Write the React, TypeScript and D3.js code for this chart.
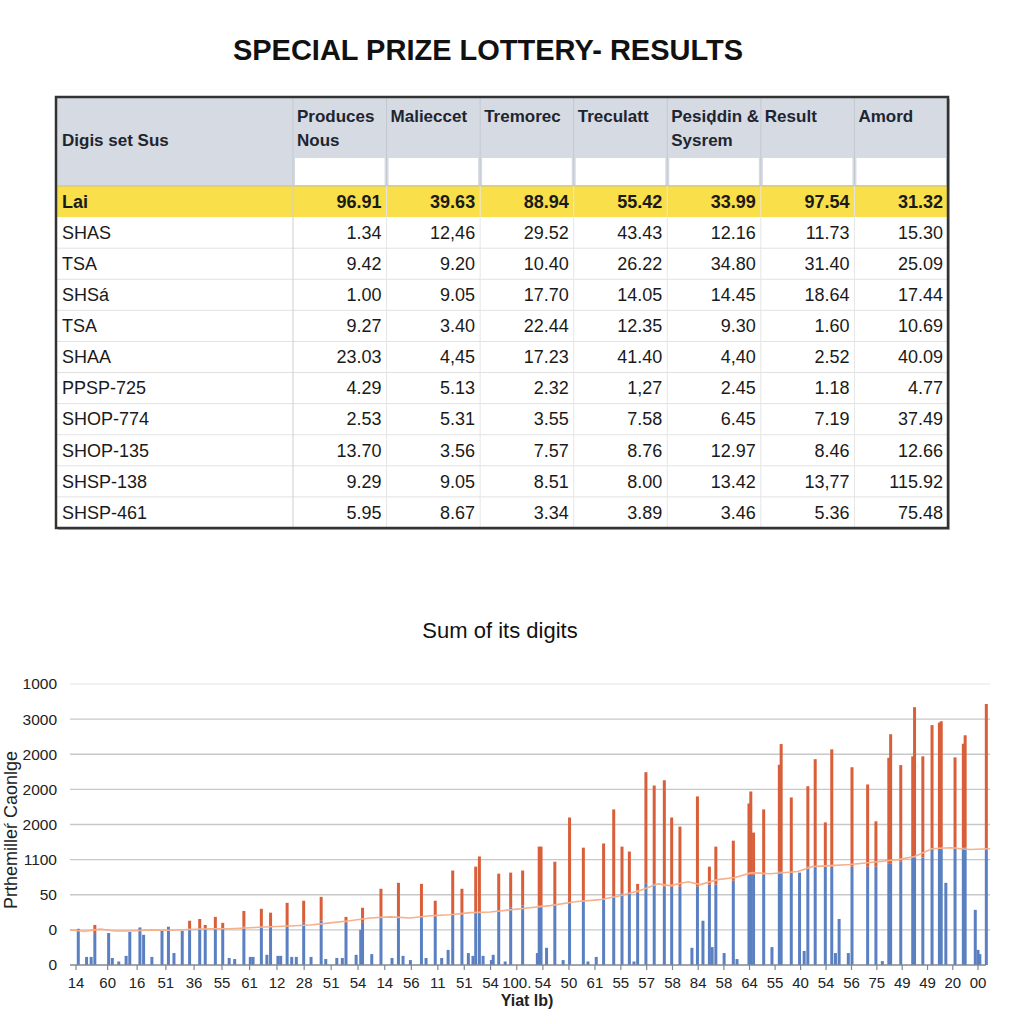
import React from "react";
import * as d3 from "d3";

// ---------- Table data ----------
const pageTitle = "SPECIAL PRIZE LOTTERY- RESULTS";
const firstHeader = "Digis set Sus";
const columnHeaders = [["Produces", "Nous"], ["Malieccet"], ["Tremorec"], ["Treculatt"], ["Pesiḑdin &", "Sysrem"], ["Result"], ["Amord"]];
const rowLabels = ["Lai", "SHAS", "TSA", "SHSá", "TSA", "SHAA", "PPSP-725", "SHOP-774", "SHOP-135", "SHSP-138", "SHSP-461"];
const rowValues = [
  ["96.91", "39.63", "88.94", "55.42", "33.99", "97.54", "31.32"],
  ["1.34", "12,46", "29.52", "43.43", "12.16", "11.73", "15.30"],
  ["9.42", "9.20", "10.40", "26.22", "34.80", "31.40", "25.09"],
  ["1.00", "9.05", "17.70", "14.05", "14.45", "18.64", "17.44"],
  ["9.27", "3.40", "22.44", "12.35", "9.30", "1.60", "10.69"],
  ["23.03", "4,45", "17.23", "41.40", "4,40", "2.52", "40.09"],
  ["4.29", "5.13", "2.32", "1,27", "2.45", "1.18", "4.77"],
  ["2.53", "5.31", "3.55", "7.58", "6.45", "7.19", "37.49"],
  ["13.70", "3.56", "7.57", "8.76", "12.97", "8.46", "12.66"],
  ["9.29", "9.05", "8.51", "8.00", "13.42", "13,77", "115.92"],
  ["5.95", "8.67", "3.34", "3.89", "3.46", "5.36", "75.48"],
];

// ---------- Chart data ----------
const chartTitle = "Sum of its digits";
const yTickLabels = ["0", "0", "50", "1100", "2000", "2000", "2000", "3000", "1000"];
const xTickLabels = ["14", "60", "16", "51", "36", "55", "61", "12", "28", "51", "54", "14", "56", "11", "51", "54", "100.", "54", "50", "61", "55", "57", "58", "84", "58", "64", "55", "40", "54", "56", "75", "49", "49", "20", "00"];
const yAxisTitle = "Prthemilleŕ Caonlge";
const xAxisTitle = "Yiat lb)";

const barPos = [0.9, 1.8, 2.3, 2.7, 4.2, 4.6, 5.3, 6.1, 6.5, 7.6, 8.0, 8.9, 10.0, 10.7, 11.3, 12.2, 13.0, 14.1, 14.7, 15.8, 16.6, 17.3, 17.9, 18.9, 19.6, 19.9, 20.8, 21.4, 21.8, 22.6, 22.9, 23.6, 24.1, 24.6, 25.4, 26.2, 27.3, 27.8, 29.0, 29.6, 30.0, 31.1, 31.6, 31.8, 32.8, 33.8, 35.0, 35.7, 36.2, 37.0, 38.2, 38.7, 39.7, 40.4, 41.1, 41.6, 42.6, 43.3, 43.8, 44.1, 44.5, 44.9, 45.8, 46.0, 46.6, 47.3, 47.9, 49.2, 50.8, 51.0, 51.2, 51.8, 52.7, 53.6, 54.3, 55.8, 56.3, 57.2, 58.0, 59.1, 60.0, 60.8, 61.3, 61.7, 62.6, 63.5, 64.6, 65.4, 66.3, 67.6, 68.2, 68.8, 69.5, 69.8, 70.2, 71.1, 72.1, 72.5, 73.8, 74.0, 74.3, 75.4, 76.3, 77.1, 77.3, 78.4, 79.3, 79.8, 80.2, 81.0, 82.1, 82.8, 83.2, 83.6, 84.6, 85.0, 86.7, 87.6, 88.3, 89.0, 89.2, 90.3, 91.6, 91.8, 92.7, 93.7, 94.5, 94.7, 95.2, 96.2, 97.1, 97.3, 98.4, 98.7, 98.9, 99.6];
const barBlue = [1.03, 0.23, 0.23, 0.91, 0.91, 0.2, 0.1, 0.26, 0.94, 1.07, 0.86, 0.23, 0.97, 1.09, 0.34, 0.97, 1.03, 1.03, 1.03, 1.03, 1.03, 0.2, 0.17, 1.09, 0.23, 0.23, 1.09, 0.29, 1.09, 0.26, 0.26, 1.14, 0.23, 0.23, 1.2, 0.23, 1.26, 0.17, 0.2, 0.2, 1.2, 0.29, 1.0, 1.2, 0.31, 1.37, 0.2, 1.37, 0.26, 0.14, 1.37, 0.2, 1.37, 0.2, 0.43, 1.43, 1.43, 0.34, 0.26, 1.51, 1.51, 0.26, 0.14, 0.29, 1.51, 0.1, 1.63, 1.69, 0.34, 1.69, 1.69, 0.49, 1.71, 0.14, 1.77, 1.8, 0.1, 0.23, 1.86, 1.94, 2.03, 2.03, 0.1, 2.06, 2.31, 2.31, 2.23, 2.23, 2.23, 0.49, 2.23, 1.26, 2.29, 0.51, 2.29, 0.34, 2.4, 0.17, 2.57, 2.57, 2.57, 2.57, 0.51, 2.66, 2.66, 2.63, 2.63, 0.4, 2.8, 2.8, 2.8, 2.8, 0.34, 1.31, 0.34, 2.8, 2.8, 2.8, 0.11, 2.89, 2.89, 2.94, 3.06, 3.06, 3.06, 3.31, 3.34, 3.34, 2.34, 3.34, 3.34, 3.34, 1.57, 0.43, 0.31, 3.31];
const barRed = [0, 0, 0, 0.23, 0, 0, 0, 0, 0, 0, 0, 0, 0, 0, 0, 0, 0.23, 0.28, 0.11, 0.34, 0.17, 0, 0, 0.45, 0, 0, 0.51, 0, 0.4, 0, 0, 0.63, 0, 0, 0.63, 0, 0.68, 0, 0, 0, 0.17, 0, 0, 0.43, 0, 0.8, 0, 0.97, 0, 0, 0.94, 0, 0.46, 0, 0, 1.26, 0.74, 0, 0, 1.29, 1.58, 0, 0, 0, 1.09, 0, 1.0, 1.0, 0, 1.68, 1.68, 0, 1.23, 0, 2.43, 1.54, 0, 0, 1.6, 2.49, 1.34, 1.2, 0, 0.25, 3.18, 2.8, 3.03, 1.97, 1.71, 0, 2.57, 0, 0.51, 0, 1.08, 0, 1.14, 0, 2.03, 2.37, 1.2, 1.86, 0, 3.04, 3.63, 2.14, 0, 0, 2.29, 3.06, 1.26, 3.34, 0, 0, 0, 2.83, 2.34, 1.29, 0, 3.01, 3.68, 2.75, 2.88, 4.28, 2.88, 3.52, 3.56, 3.6, 0, 2.57, 2.96, 3.2, 0, 0, 0, 4.12];

const trendPos = [0, 1.6, 3.3, 4.9, 6.5, 8.7, 10.9, 13.0, 15.2, 17.4, 19.6, 21.7, 23.9, 26.1, 28.3, 30.4, 32.6, 34.8, 37.0, 39.1, 41.3, 43.5, 45.7, 47.8, 50.0, 52.2, 54.9, 57.6, 59.8, 62.2, 63.9, 65.2, 67.2, 68.5, 70.4, 72.3, 74.1, 76.1, 79.1, 80.7, 82.6, 84.8, 86.7, 90.0, 91.8, 93.7, 95.7, 97.8, 100];
const trendVals = [1.0, 0.96, 1.02, 0.97, 0.97, 1.0, 0.99, 1.01, 1.03, 1.03, 1.06, 1.09, 1.11, 1.14, 1.2, 1.26, 1.34, 1.37, 1.34, 1.4, 1.43, 1.49, 1.51, 1.57, 1.63, 1.69, 1.8, 1.86, 1.97, 2.14, 2.31, 2.26, 2.37, 2.29, 2.43, 2.49, 2.63, 2.6, 2.66, 2.8, 2.83, 2.86, 2.91, 3.0, 3.09, 3.31, 3.34, 3.29, 3.31];

const FONT = "'Liberation Sans', Arial, sans-serif";
const BLUE = "#5b80c2";
const RED = "#d95f3b";

export default function App() {
  // table geometry via scales
  const tableLeft = 56, tableRight = 948, tableTop = 97, headerBottom = 186, tableBottom = 528;
  const firstColRight = 293;
  const colScale = d3.scaleBand<number>().domain(d3.range(columnHeaders.length)).range([firstColRight, tableRight]);
  const rowScale = d3.scaleBand<number>().domain(d3.range(rowLabels.length)).range([headerBottom, tableBottom]);
  const cw = colScale.bandwidth();
  const rh = rowScale.bandwidth();

  // chart scales
  const plotLeft = 70, plotRight = 990, plotBottom = 965, plotTop = 684;
  const x = d3.scaleLinear().domain([0, 100]).range([plotLeft, plotRight]);
  const y = d3.scaleLinear().domain([0, yTickLabels.length - 1]).range([plotBottom, plotTop]);
  const xl = d3.scalePow().exponent(0.95).domain([0, xTickLabels.length - 1]).range([76, 978]);
  const bw = 3;
  const trendLine = d3.line<number>().x((_, i) => x(trendPos[i])).y((d) => y(d)).curve(d3.curveLinear)(trendVals) || "";

  return (
    <svg width={1024} height={1024} style={{ position: "absolute", left: 0, top: 0, background: "#fff" }} fontFamily={FONT}>
      <rect width={1024} height={1024} fill="#fff" />
      <text x={488} y={50} textAnchor="middle" dy="0.35em" fontSize={29} fontWeight={700} fill="#111">{pageTitle}</text>

      {/* Table */}
      <rect x={tableLeft + 2} y={tableTop + 2} width={tableRight - tableLeft} height={tableBottom - tableTop} fill="#bbb" />
      <rect x={tableLeft} y={tableTop} width={tableRight - tableLeft} height={tableBottom - tableTop} fill="#fff" />
      <rect x={tableLeft} y={tableTop} width={tableRight - tableLeft} height={headerBottom - tableTop} fill="#d5dae3" />
      {columnHeaders.map((_, c) => (
        <rect key={"wb" + c} x={(colScale(c) as number) + 2} y={158} width={cw - 4} height={27} fill="#fff" />
      ))}
      {columnHeaders.map((_, c) => (
        <line key={"hv" + c} x1={colScale(c) as number} x2={colScale(c) as number} y1={tableTop} y2={headerBottom} stroke="#c3c8d1" strokeWidth={1} />
      ))}
      <rect x={tableLeft} y={rowScale(0) as number} width={tableRight - tableLeft} height={rh} fill="#f9df4a" />
      <line x1={tableLeft} x2={tableRight} y1={headerBottom} y2={headerBottom} stroke="#c9c18a" strokeWidth={1} />
      {rowLabels.map((_, r) => r > 0 ? (
        <line key={"rl" + r} x1={tableLeft} x2={tableRight} y1={(rowScale(r) as number) + rh} y2={(rowScale(r) as number) + rh} stroke="#e2e2e2" strokeWidth={1} />
      ) : null)}
      {columnHeaders.map((_, c) => (
        <line key={"dv" + c} x1={colScale(c) as number} x2={colScale(c) as number} y1={headerBottom} y2={tableBottom} stroke={c === 0 ? "#cfcfcf" : "#e6e6e6"} strokeWidth={1} />
      ))}
      <text x={tableLeft + 6} y={140} dy="0.35em" fontSize={17} fontWeight={700} fill="#1f2530">{firstHeader}</text>
      {columnHeaders.map((lines, c) => lines.map((t, k) => (
        <text key={"h" + c + k} x={(colScale(c) as number) + 4} y={116 + k * 24} dy="0.35em" fontSize={17} fontWeight={700} fill="#1f2530">{t}</text>
      )))}
      {rowLabels.map((lab, r) => {
        const cy = (rowScale(r) as number) + rh / 2;
        const bold = r === 0;
        return (
          <g key={"row" + r}>
            <text x={tableLeft + 6} y={cy} dy="0.35em" fontSize={18} fontWeight={bold ? 700 : 400} fill="#1a1a1a">{lab}</text>
            {rowValues[r].map((v, c) => (
              <text key={c} x={(colScale(c) as number) + cw - 5} y={cy} dy="0.35em" textAnchor="end" fontSize={18} fontWeight={bold ? 700 : 400} fill="#1a1a1a">{v}</text>
            ))}
          </g>
        );
      })}
      <rect x={tableLeft} y={tableTop} width={tableRight - tableLeft} height={tableBottom - tableTop} fill="none" stroke="#333" strokeWidth={2.5} />

      {/* Chart */}
      <text x={500} y={630} dy="0.35em" textAnchor="middle" fontSize={22} fill="#111">{chartTitle}</text>
      {yTickLabels.map((t, i) => (
        <g key={"yt" + i}>
          {i > 0 && <line x1={plotLeft} x2={plotRight} y1={y(i)} y2={y(i)} stroke={i === yTickLabels.length - 1 ? "#ececec" : "#c8c8c8"} strokeWidth={1.3} />}
          <text x={57} y={y(i)} dy="0.35em" textAnchor="end" fontSize={15.5} fill="#222">{t}</text>
        </g>
      ))}
      {barPos.map((p, i) => (
        <g key={"b" + i}>
          <rect x={x(p) - bw / 2} y={y(barBlue[i])} width={bw} height={y(0) - y(barBlue[i])} fill={BLUE} />
          {barRed[i] > 0 && (
            <rect x={x(p) - bw / 2} y={y(barBlue[i] + barRed[i])} width={bw} height={y(barBlue[i]) - y(barBlue[i] + barRed[i])} fill={RED} />
          )}
        </g>
      ))}
      <path d={trendLine} fill="none" stroke="#f5b08c" strokeWidth={1.6} />
      <line x1={plotLeft} x2={plotRight - 4} y1={plotBottom} y2={plotBottom} stroke="#7f8896" strokeWidth={1.5} />
      {xTickLabels.map((t, i) => (
        <g key={"xt" + i}>
          <line x1={xl(i)} x2={xl(i)} y1={plotBottom} y2={plotBottom + 5} stroke="#7f8896" strokeWidth={1.2} />
          <text x={xl(i)} y={983} dy="0.35em" textAnchor="middle" fontSize={15} fill="#222">{t}</text>
        </g>
      ))}
      <text x={527} y={1000} dy="0.35em" textAnchor="middle" fontSize={16} fontWeight={700} fill="#222">{xAxisTitle}</text>
      <text transform="translate(11,830) rotate(-90)" textAnchor="middle" dy="0.35em" fontSize={18} fill="#222">{yAxisTitle}</text>
    </svg>
  );
}
